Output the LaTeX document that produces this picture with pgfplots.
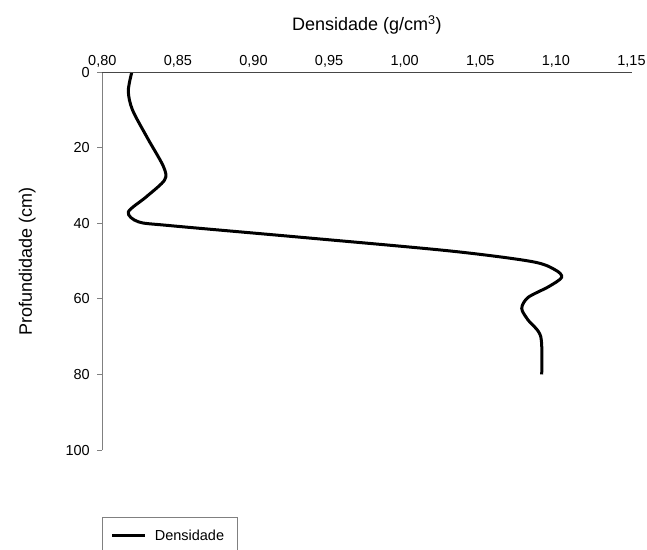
\documentclass[border=0pt]{standalone}
\usepackage{pgfplots}
\pgfplotsset{compat=1.18}
\usepackage{fontspec}
\setmainfont{Liberation Sans}
\definecolor{axgray}{RGB}{128,128,128}
\definecolor{topgray}{RGB}{70,70,70}
\begin{document}
\begin{tikzpicture}
\begin{axis}[
  scale only axis,
  width=529.2pt, height=377.7pt,
  xmin=0.80, xmax=1.15, ymin=0, ymax=100,
  y dir=reverse,
  axis line style={draw=none},
  xtick={0.80,0.85,...,1.15},
  ytick={0,20,...,100},
  xticklabel pos=upper,
  xtick pos=upper,
  ytick pos=left,
  tick align=outside,
  major tick length=5pt,
  xtick style={draw=none},
  ytick style={axgray, line width=1pt},
  /pgf/number format/assume math mode=true,
  xticklabel style={/pgf/number format/.cd, fixed, fixed zerofill, precision=2, use comma, /tikz/.cd, font=\fontsize{14.5}{17}\selectfont, yshift=-4pt},
  yticklabel style={font=\fontsize{14.5}{17}\selectfont, xshift=-4pt},
  xlabel={Densidade (g/cm\textsuperscript{3})},
  ylabel={Profundidade (cm)},
  xlabel style={at={([yshift=41.6pt]axis description cs:0.5,1)}, anchor=base, font=\fontsize{18}{21}\selectfont},
  ylabel style={at={([xshift=-70.3pt]axis description cs:0,0.5)}, anchor=base, font=\fontsize{18}{21}\selectfont},
  legend style={at={([yshift=-67pt]axis description cs:0,0)}, anchor=north west, draw=axgray, line width=1pt,
    font=\fontsize{14.5}{17}\selectfont, inner xsep=8pt, inner ysep=10pt},
  legend image code/.code={\draw[#1] (0pt,0pt) -- (33pt,0pt); \path (39pt,0pt);},
  legend cell align=left,
  extra description/.code={
    \draw[axgray, line width=1pt] (axis description cs:0,0) -- (axis description cs:0,1);
    \draw[topgray, line width=1pt] (axis description cs:0,1) -- (axis description cs:1,1);
  },
  clip=false,
]
\addplot[black, line width=3pt, smooth, tension=0.5] coordinates {
(0.8195,0) (0.8172,5) (0.8200,10) (0.8300,17.5) (0.8405,25) (0.8412,28.5)
(0.8290,33) (0.8172,37) (0.8240,39.6) (0.8450,40.6) (0.9320,43.7) (1.0300,47.3)
(1.0840,50.1) (1.0995,52.3) (1.1038,54.3) (1.0950,56.8) (1.0816,59.6) (1.0774,62.5)
(1.0816,65.6) (1.0900,70) (1.0906,80)
};
\addlegendentry{Densidade\hspace*{3pt}}
\end{axis}
\pgfresetboundingbox
\path[use as bounding box] (-102.3pt,-99pt) rectangle (544.7pt,450pt);
\end{tikzpicture}
\end{document}
